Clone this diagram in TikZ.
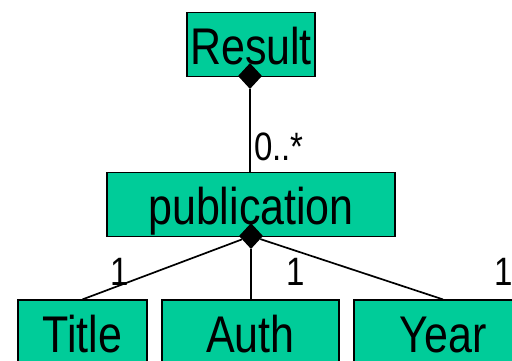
\documentclass[tikz,border=0pt]{standalone}
\usepackage{fontspec}
\setmainfont{Liberation Sans}
\usetikzlibrary{shapes.geometric}
\definecolor{classfill}{RGB}{0,204,153}
% tall lettering: the text is stretched vertically
\newcommand\talltxt[1]{\scalebox{1}[1.2]{#1}}
\tikzset{
  classbox/.style={draw=black, line width=1.2pt, fill=classfill, rectangle,
    minimum height=64pt, inner sep=0pt, text height=40pt, text depth=0pt,
    font=\fontsize{43}{43}\selectfont},
  multlabel/.style={inner sep=0pt, font=\fontsize{33}{33}\selectfont},
  compdiamond/.style={diamond, fill=black, inner sep=0pt,
    minimum width=24pt, minimum height=26pt},
  link/.style={line width=1.7pt}
}
\begin{document}
\begin{tikzpicture}[x=1pt, y=-1pt]
  \useasboundingbox (0,0) rectangle (512,360);
  \clip (0,0) rectangle (512,360);

  % classes
  \node[classbox, minimum width=128pt] (result) at (251,44.5) {\talltxt{Result}};
  \node[classbox, minimum width=288pt] (pub) at (251,204.5) {\talltxt{publication}};
  \node[classbox, minimum width=129pt] (title) at (82.5,332) {\talltxt{Title}};
  \node[classbox, minimum width=177pt] (auth) at (250.5,332) {\talltxt{Auth}};
  \node[classbox, minimum width=178pt] (year) at (443,332) {\talltxt{Year}};

  % composition diamonds
  \node[compdiamond] (rd) at (250,76) {};
  \node[compdiamond] (pd) at (251,236) {};

  % connectors
  \draw[link] (rd.south) -- (rd.south |- pub.north);
  \draw[link] (pd) -- (title.north);
  \draw[link] (pd) -- (pd |- auth.north);
  \draw[link] (pd) -- (year.north);

  % multiplicities
  \node[multlabel, anchor=base west] (m0) at (254,160) {\talltxt{0..*}};
  \node[multlabel, anchor=base] (m1) at (119.5,285) {\talltxt{1}};
  \node[multlabel, anchor=base] (m2) at (295.5,285) {\talltxt{1}};
  \node[multlabel, anchor=base] (m3) at (504,285) {\talltxt{1}};
\end{tikzpicture}
\end{document}
